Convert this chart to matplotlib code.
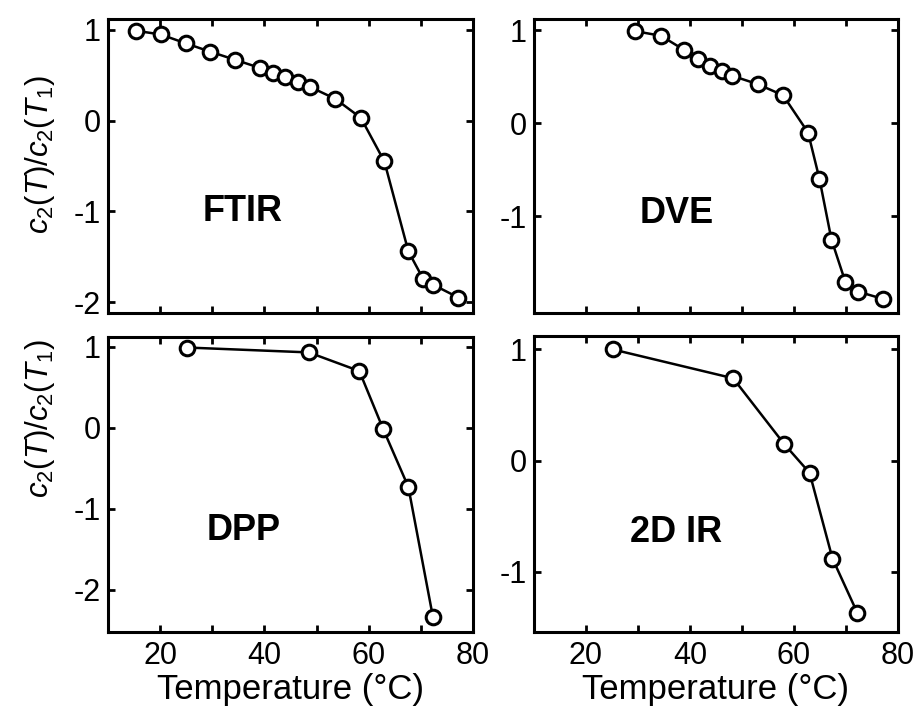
import matplotlib
matplotlib.use("Agg")
import matplotlib.pyplot as plt
from matplotlib.ticker import FixedLocator

plt.rcParams['font.family'] = ['Liberation Sans', 'DejaVu Sans']
plt.rcParams['mathtext.fontset'] = 'custom'
plt.rcParams['mathtext.rm'] = 'Liberation Sans'
plt.rcParams['mathtext.it'] = 'Liberation Sans:italic'

# FTIR
ftir_T = [15.4, 20.1, 25.0, 29.6, 34.4, 39.2, 41.6, 44.0, 46.4, 48.8, 53.6, 58.5, 63.0, 67.6, 70.5, 72.4, 77.2]
ftir_v = [0.99, 0.95, 0.85, 0.76, 0.67, 0.58, 0.52, 0.48, 0.43, 0.37, 0.24, 0.03, -0.45, -1.44, -1.75, -1.81, -1.95]
# DVE
dve_T = [29.4, 34.4, 38.8, 41.6, 43.8, 46.1, 48.1, 53.0, 57.9, 62.7, 64.9, 67.2, 69.9, 72.3, 77.2]
dve_v = [0.99, 0.94, 0.79, 0.69, 0.61, 0.56, 0.51, 0.42, 0.30, -0.10, -0.60, -1.25, -1.71, -1.81, -1.89]
# DPP
dpp_T = [25.2, 48.5, 58.2, 62.8, 67.6, 72.3]
dpp_v = [0.99, 0.93, 0.70, -0.02, -0.73, -2.33]
# 2D IR
ir2d_T = [25.1, 48.3, 58.1, 63.0, 67.4, 72.2]
ir2d_v = [1.00, 0.74, 0.15, -0.11, -0.88, -1.37]

labels = ['FTIR', 'DVE', 'DPP', '2D IR']
ylims = [(-2.12, 1.12), (-2.04, 1.12), (-2.52, 1.12), (-1.54, 1.12)]
yticks = [[-2, -1, 0, 1], [-1, 0, 1], [-2, -1, 0, 1], [-1, 0, 1]]
label_pos = [(35.9, -1.0), (37.4, -0.97), (36.0, -1.27), (37.4, -0.65)]
series = [(ftir_T, ftir_v), (dve_T, dve_v), (dpp_T, dpp_v), (ir2d_T, ir2d_v)]

W, H = 916, 711
fig = plt.figure(figsize=(W / 100, H / 100), dpi=100)
boxes = [(108, 19, 473, 313), (534, 19, 898, 313), (108, 337, 473, 632), (534, 336, 898, 632)]
ylabel_y = {0: 0.54, 2: 0.725}

ylabel = r'$c_2(T)/c_2(T_1)$'
for i, (box, (T, v)) in enumerate(zip(boxes, series)):
    x0, y0, x1, y1 = box
    ax = fig.add_axes([x0 / W, 1 - y1 / H, (x1 - x0) / W, (y1 - y0) / H])
    ax.plot(T, v, '-', color='black', lw=1.8, marker='o', ms=10.5,
            mfc='white', mec='black', mew=2.2, clip_on=False, zorder=3)
    ax.set_xlim(10, 80)
    ax.set_ylim(*ylims[i])
    ax.xaxis.set_major_locator(FixedLocator([20, 40, 60, 80]))
    ax.xaxis.set_minor_locator(FixedLocator([30, 50, 70]))
    ax.yaxis.set_major_locator(FixedLocator(yticks[i]))
    ax.tick_params(which='both', direction='in', top=True, right=True,
                   length=5, width=2, labelsize=22)
    ax.tick_params(axis='x', pad=6.5)
    ax.tick_params(axis='y', pad=5)
    for s in ax.spines.values():
        s.set_linewidth(2.2)
    ax.set_yticklabels([str(t) for t in yticks[i]])
    if i < 2:
        ax.set_xticklabels([])
    else:
        ax.set_xlabel('Temperature (\u00b0C)', fontsize=25, labelpad=1.5)
    if i in (0, 2):
        ax.set_ylabel(ylabel, fontsize=22.5)
        ax.yaxis.set_label_coords(-0.141, ylabel_y[i])
    ax.text(label_pos[i][0], label_pos[i][1], labels[i], ha='center', va='center',
            fontsize=26, fontweight='bold')

fig.savefig('out.png', dpi=100)
